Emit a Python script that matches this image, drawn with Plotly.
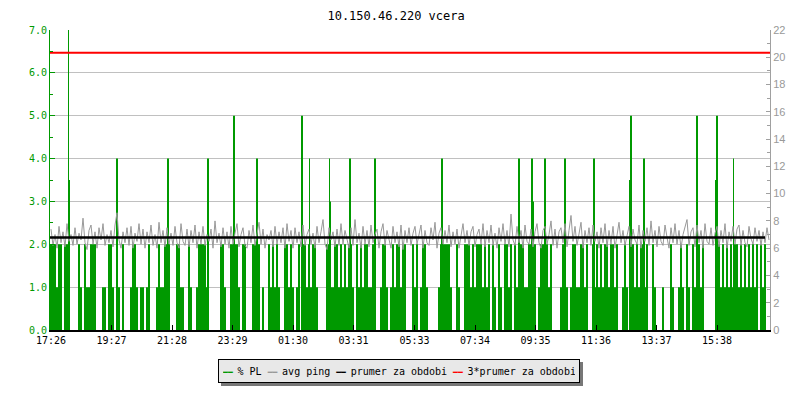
import plotly.graph_objects as go

title = "10.150.46.220 vcera"
tick_labels = ["17:26", "19:27", "21:28", "23:29", "01:30", "03:31",
               "05:33", "07:34", "09:35", "11:36", "13:37", "15:38"]

# % PL, one digit per 4 minute sample
pl_q1 = ("2221220222" "0000210211" "2220001102" "2102102000" "1221011012"
         "0001211222" "0002211002" "1001222210" "0000022100")
pl_q2 = ("2222102200" "0221201002" "1212100221" "2101202212" "1221000022"
         "1122121212" "2102121221" "1210012210" "1212212200")
pl_q3 = ("0212012210" "0000122222" "1002100222" "1212221212" "0210210221"
         "2021222112" "2220122221" "2000012210" "1221122120")
pl_q4 = ("0212121221" "2212001210" "2212122120" "0210001000" "2100121021"
         "0212212000" "0002212121" "2122121212" "1212021200")
pl_step = 4

# single tall loss samples (minute from start, % PL)
spike_min = [35, 37, 132, 234, 314, 366, 412, 502, 517, 557, 559, 598, 648,
             782, 936, 962, 964, 988, 1028, 1086, 1158, 1160, 1186, 1292,
             1330, 1332, 1365]
spike_val = [7.0, 3.5, 4.0, 4.0, 4.0, 5.0, 4.0, 5.0, 4.0, 4.0, 3.0, 4.0, 4.0,
             4.0, 4.0, 4.0, 3.0, 4.0, 4.0, 4.0, 3.5, 5.0, 4.0, 5.0,
             3.5, 5.0, 4.0]

# avg ping in tenths of ms, one per 4 minute sample
ping_tenths = [
    74, 62, 70, 60, 76, 64, 72, 61, 78, 65, 70, 62, 75, 63, 71, 66, 82, 64, 59, 73, 77, 63, 72, 60, 75, 66, 78, 62, 70, 64,
    73, 61, 77, 86, 66, 60, 72, 64, 75, 62, 76, 60, 71, 65, 78, 63, 74, 60, 72, 64, 77, 62, 70, 60, 79, 64, 73, 61, 75, 63,
    71, 62, 76, 64, 60, 78, 65, 62, 74, 61, 73, 64, 77, 60, 72, 63, 76, 62, 70, 65, 74, 60, 80, 64, 71, 61, 75, 63, 72, 60,
    76, 63, 71, 78, 61, 70, 75, 62, 60, 73, 64, 77, 62, 71, 79, 63, 74, 60, 70, 66, 73, 61, 76, 63, 72, 64, 75, 60, 78, 65,
    73, 60, 75, 64, 72, 61, 77, 62, 70, 74, 63, 71, 60, 76, 64, 72, 81, 63, 59, 75, 66, 72, 61, 74, 62, 78, 63, 73, 65, 60,
    75, 62, 81, 64, 71, 60, 76, 63, 73, 61, 77, 64, 70, 74, 60, 72, 78, 62, 73, 65, 60, 76, 64, 72, 61, 77, 59, 73, 64, 75,
    62, 71, 76, 63, 70, 77, 60, 73, 64, 62, 75, 66, 79, 60, 71, 75, 63, 73, 64, 77, 61, 72, 63, 74, 60, 70, 78, 64, 73, 62,
    72, 76, 61, 70, 74, 63, 78, 61, 73, 64, 77, 62, 71, 60, 75, 65, 78, 63, 73, 61, 85, 66, 62, 76, 64, 73, 60, 77, 65, 63,
    74, 61, 72, 78, 64, 60, 73, 76, 63, 70, 80, 62, 74, 60, 72, 75, 64, 78, 61, 73, 84, 65, 76, 62, 71, 79, 60, 73, 64, 75,
    62, 77, 65, 72, 60, 75, 64, 78, 61, 73, 63, 76, 60, 71, 79, 64, 73, 62, 70, 76, 61, 74, 66, 63, 77, 60, 73, 65, 75, 62,
    80, 64, 73, 61, 76, 65, 62, 77, 68, 60, 75, 64, 78, 63, 73, 60, 70, 76, 81, 62, 72, 75, 61, 77, 64, 73, 60, 78, 65, 63,
    75, 62, 71, 76, 61, 73, 64, 78, 60, 72, 65, 76, 63, 74, 77, 62, 73, 64, 61, 76, 67, 63, 75, 65, 73, 62, 72, 64, 75, 66,
]
prumer = 6.78  # prumer za obdobi, ms

GREEN = "#009900"
GRAY = "#999999"
MONO = "DejaVu Sans Mono"


def to_min(label):
    h, m = label.split(":")
    return int(h) * 60 + int(m)


start = to_min(tick_labels[0])
tick_vals = [(to_min(t) - start) % 1440 for t in tick_labels]

pl = [int(c) for c in pl_q1 + pl_q2 + pl_q3 + pl_q4]
pl_x = [i * pl_step for i in range(len(pl))]
ping = [v / 10 for v in ping_tenths]
ping_x = [i * pl_step for i in range(len(ping))]

fig = go.Figure()

fig.add_trace(go.Bar(x=pl_x, y=pl, width=pl_step, marker=dict(color=GREEN, line=dict(width=0)),
                     name="% PL", showlegend=False))
fig.add_trace(go.Bar(x=spike_min, y=spike_val, width=2, marker=dict(color=GREEN, line=dict(width=0)),
                     name="% PL", showlegend=False))
fig.add_trace(go.Scatter(x=ping_x, y=ping, mode="lines", line=dict(color=GRAY, width=1),
                         name="avg ping", yaxis="y2", showlegend=False))
fig.add_trace(go.Scatter(x=[-2, 1428], y=[prumer, prumer], mode="lines",
                         line=dict(color="black", width=2.5),
                         name="prumer za obdobi", yaxis="y2", showlegend=False))
fig.add_trace(go.Scatter(x=[-2, 1438], y=[3 * prumer, 3 * prumer], mode="lines",
                         line=dict(color="red", width=2),
                         name="3*prumer za obdobi", yaxis="y2", showlegend=False))

# legend as a boxed line of text with a drop shadow
sym = "<span style='color:{};font-size:8px'>━━ </span>"
legend_text = (sym.format(GREEN) + "% PL " + sym.format(GRAY) + "avg ping "
               + sym.format("black") + "prumer za obdobi "
               + sym.format("red") + "3*prumer za obdobi")

box = dict(xref="paper", yref="paper", x=0.4847, y=-0.1367, xanchor="center", yanchor="middle",
           showarrow=False, width=352, height=14, borderwidth=1, borderpad=4, align="center")
fig.add_annotation(text=" ", xshift=3, yshift=-3, bgcolor="#777777", bordercolor="#777777",
                   font=dict(family=MONO, size=10), **box)
fig.add_annotation(text=legend_text, bgcolor="#e8e8e8", bordercolor="black",
                   font=dict(family=MONO, size=10, color="black"), **box)

# the page body has an 8px margin, so the figure is 8px smaller each way
fig.update_layout(
    width=792, height=392,
    margin=dict(l=42, r=30, t=22, b=70),
    paper_bgcolor="white", plot_bgcolor="white",
    barmode="overlay",
    title=dict(text=title, x=0.49, xref="container", xanchor="center",
               y=0.981, yref="container", yanchor="middle",
               font=dict(family=MONO, size=12, color="black")),
    xaxis=dict(range=[-2, 1438], tickvals=tick_vals, ticktext=tick_labels,
               showgrid=False, zeroline=False, showline=True, linecolor="black", linewidth=2,
               ticks="inside", ticklen=5, tickcolor="black",
               tickfont=dict(family=MONO, size=10, color="black")),
    yaxis=dict(range=[0, 7], dtick=1, tickformat=".1f",
               showgrid=True, gridcolor="#c0c0c0", zeroline=False,
               showline=True, linecolor=GREEN, linewidth=1,
               ticks="inside", ticklen=5, tickcolor=GREEN,
               minor=dict(dtick=0.5, ticks="inside", ticklen=3, tickcolor=GREEN, showgrid=False),
               tickfont=dict(family=MONO, size=10, color=GREEN)),
    yaxis2=dict(range=[0, 22], dtick=2, overlaying="y", side="right",
                showgrid=False, zeroline=False,
                showline=True, linecolor="#a0a0a0", linewidth=1,
                ticks="inside", ticklen=4, tickcolor="#a0a0a0",
                minor=dict(dtick=1, ticks="inside", ticklen=3, tickcolor="#a0a0a0", showgrid=False),
                tickfont=dict(family="Liberation Sans", size=11, color="#999999")),
)

fig.write_html("out.html")
